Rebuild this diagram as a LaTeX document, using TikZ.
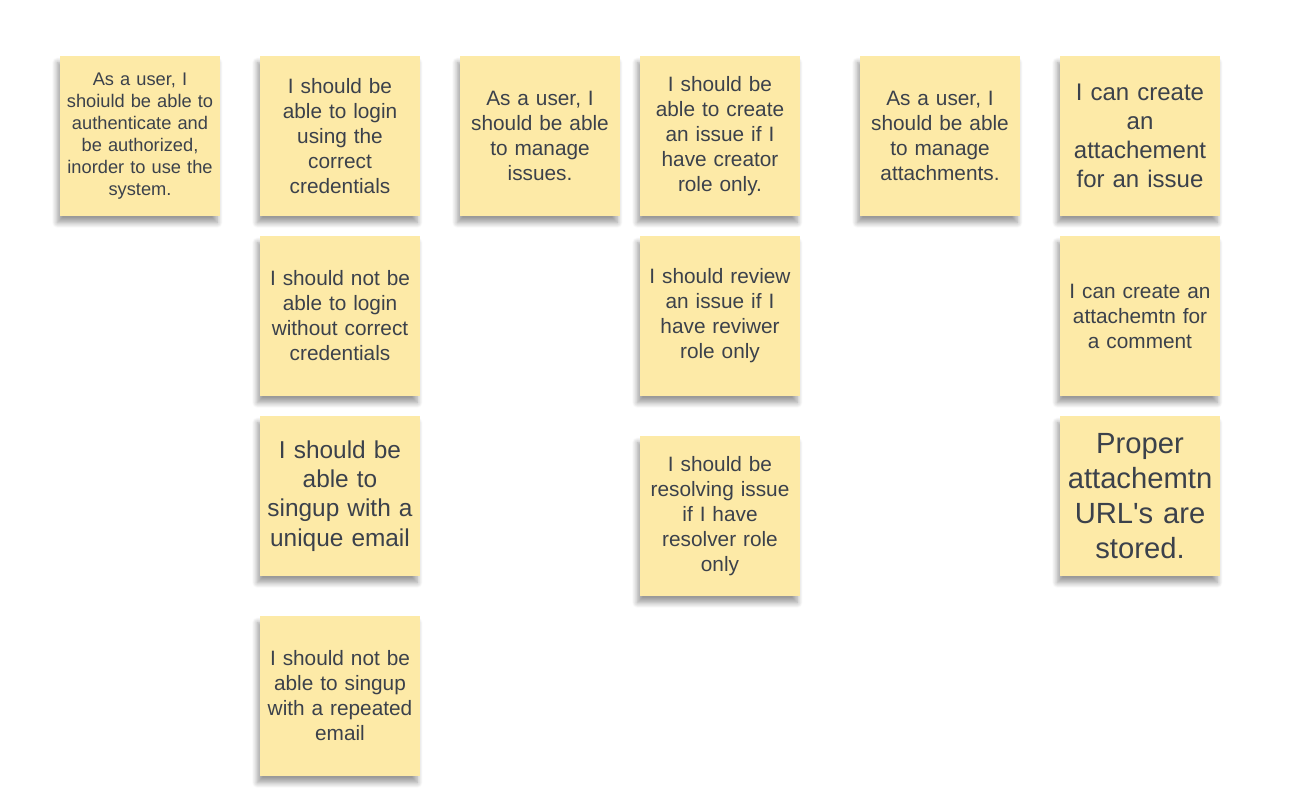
\documentclass[tikz,border=0pt]{standalone}
\usepackage{xcolor}
\usepackage{fontspec}
\setmainfont{Liberation Sans}
\usetikzlibrary{shadows.blur}
\definecolor{stickyfill}{HTML}{FDEAA7}
\definecolor{stickytext}{HTML}{3B414B}

\begin{document}
\begin{tikzpicture}[x=0.75pt,y=0.75pt,yscale=-1,xscale=1,
	sticky/.style={fill=stickyfill, draw=none, minimum width=120pt, minimum height=120pt, text width=112pt, align=center, inner sep=0pt, text=stickytext,
		blur shadow={shadow xshift=-2pt, shadow yshift=-5pt, shadow blur radius=4pt, shadow opacity=40, shadow blur steps=10}},
	txtsmall/.style={font=\fontsize{13.7}{16.5}\selectfont},
	txtmid/.style={font=\fontsize{15.6}{18.75}\selectfont},
	txtbig/.style={font=\fontsize{18.3}{22}\selectfont},
	txthuge/.style={font=\fontsize{21.9}{26.25}\selectfont}]
	\useasboundingbox (0,0) rectangle (1312,796);
	
	% Sticky Notes: authentication
	\node [sticky, txtsmall] (auth) at (140,136) {As a user, I\\ shoiuld be able to\\ authenticate and\\ be authorized,\\ inorder to use the\\ system.};
	\node [sticky, txtmid] (loginOk) at (340,136) {I should be\\ able to login\\ using the\\ correct\\ credentials};
	\node [sticky, txtmid] (loginBad) at (340,316) {I should not be\\ able to login\\ without correct\\ credentials};
	\node [sticky, txtbig] (signupOk) at (340,496) {I should be\\ able to\\ singup with a\\ unique email};
	\node [sticky, txtmid] (signupBad) at (340,696) {I should not be\\ able to singup\\ with a repeated\\ email};
	
	% Sticky Notes: issues
	\node [sticky, txtmid] (issues) at (540,136) {As a user, I\\ should be able\\ to manage\\ issues.};
	\node [sticky, txtmid] (create) at (720,136) {I should be\\ able to create\\ an issue if I\\ have creator\\ role only.};
	\node [sticky, txtmid] (review) at (720,316) {I should review\\ an issue if I\\ have reviwer\\ role only};
	\node [sticky, txtmid] (resolve) at (720,516) {I should be\\ resolving issue\\ if I have\\ resolver role\\ only};
	
	% Sticky Notes: attachments
	\node [sticky, txtmid] (attach) at (940,136) {As a user, I\\ should be able\\ to manage\\ attachments.};
	\node [sticky, font=\fontsize{18}{21.75}\selectfont] (attIssue) at (1140,136) {I can create\\ an\\ attachement\\ for an issue};
	\node [sticky, txtmid] (attComment) at (1140,316) {I can create an\\ attachemtn for\\ a comment};
	\node [sticky, txthuge] (attUrl) at (1140,496) {Proper\\ attachemtn\\ URL\textquotesingle s are\\ stored.};
\end{tikzpicture}
\end{document}
